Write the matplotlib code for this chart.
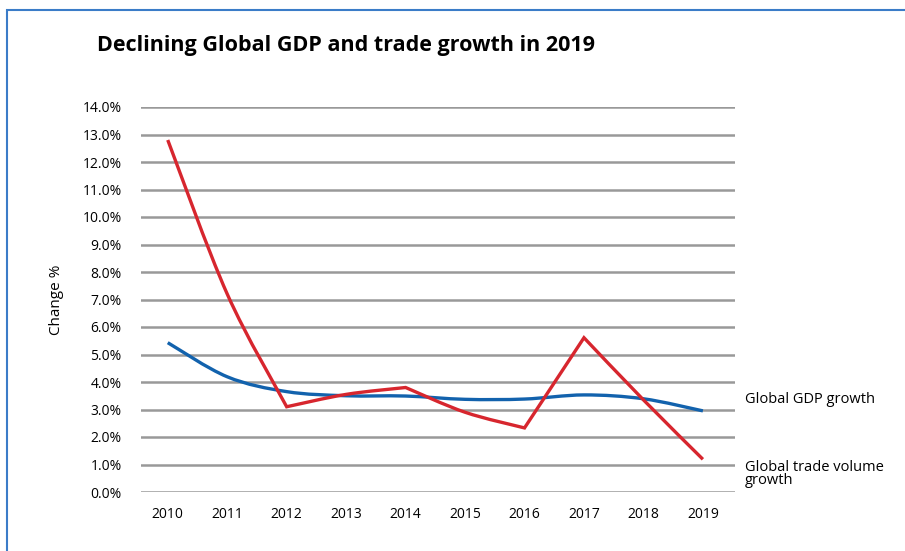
import numpy as np
import matplotlib
matplotlib.use("Agg")
import matplotlib.pyplot as plt
from matplotlib.path import Path
from matplotlib.patches import PathPatch, Rectangle

years = ["2010", "2011", "2012", "2013", "2014", "2015", "2016", "2017", "2018", "2019"]
gdp_growth = [5.43, 4.19, 3.65, 3.5, 3.49, 3.37, 3.38, 3.53, 3.39, 2.95]
trade_growth = [12.8, 7.2, 3.1, 3.55, 3.8, 2.9, 2.33, 5.61, 3.35, 1.19]
# indices where the trade line has a sharp corner
trade_breaks = [0, 2, 4, 6, 7, 9]
y_ticks = [0, 1, 2, 3, 4, 5, 6, 7, 8, 9, 10, 11, 12, 13, 14]

plt.rcParams['font.family'] = ['Open Sans', 'DejaVu Sans']


def smooth_path(xs, ys, breaks=None):
    # excel-like smoothed line as cubic bezier segments, restarted at breaks
    n = len(xs)
    if breaks is None:
        breaks = [0, n - 1]
    verts = [(xs[0], ys[0])]
    codes = [Path.MOVETO]
    for a, b in zip(breaks[:-1], breaks[1:]):
        for i in range(a, b):
            i0, i3 = max(i - 1, a), min(i + 2, b)
            x0, y0 = xs[i0], ys[i0]
            x1, y1 = xs[i], ys[i]
            x2, y2 = xs[i + 1], ys[i + 1]
            x3, y3 = xs[i3], ys[i3]
            c1 = (x1 + (x2 - x0) / 6, y1 + (y2 - y0) / 6)
            c2 = (x2 - (x3 - x1) / 6, y2 - (y3 - y1) / 6)
            verts += [c1, c2, (x2, y2)]
            codes += [Path.CURVE4] * 3
    return Path(verts, codes)


fig = plt.figure(figsize=(9.05, 5.51), dpi=100)
ax = fig.add_axes([141 / 905, 1 - 492 / 551, (735 - 141) / 905, (492 - 107) / 551])

x = np.arange(len(years))
for t in y_ticks:
    ax.axhline(t, color='#999999', lw=1.8, zorder=1)

ax.add_patch(PathPatch(smooth_path(x, gdp_growth), fill=False, edgecolor='#1262ad', lw=2.4, zorder=3))
ax.add_patch(PathPatch(smooth_path(x, trade_growth, trade_breaks), fill=False, edgecolor='#d7262e',
                       lw=2.4, zorder=4, joinstyle='miter', capstyle='butt'))

ax.set_xlim(-0.45, 9.54)
ax.set_ylim(0, 14)
ax.set_xticks(x)
ax.set_xticklabels(years, fontsize=10)
ax.set_yticks(y_ticks)
ax.set_yticklabels([f"{t:.1f}%" for t in y_ticks], fontsize=10)
ax.tick_params(length=0, pad=11)
ax.tick_params(axis='y', pad=14)
for s in ax.spines.values():
    s.set_visible(False)

ax.set_ylabel("Change %", fontsize=11, labelpad=13)

ax.text(9.7, gdp_growth[-1] + 0.4, "Global GDP growth", fontsize=10.5, va='center', ha='left', clip_on=False)
ax.text(9.7, 0.66, "Global trade volume\ngrowth", fontsize=10.5, va='center', ha='left',
        linespacing=0.85, clip_on=False)

fig.text(97 / 905, 1 - 46 / 551, "Declining Global GDP and trade growth in 2019",
         fontsize=15.5, fontweight='bold', va='center', ha='left')

fig.patches.append(Rectangle((7 / 905, -0.1), 1.2, 1 - 10 / 551 + 0.1, transform=fig.transFigure,
                             fill=False, edgecolor='#3b7cc8', lw=1.5))

fig.savefig("out.png", dpi=100)
